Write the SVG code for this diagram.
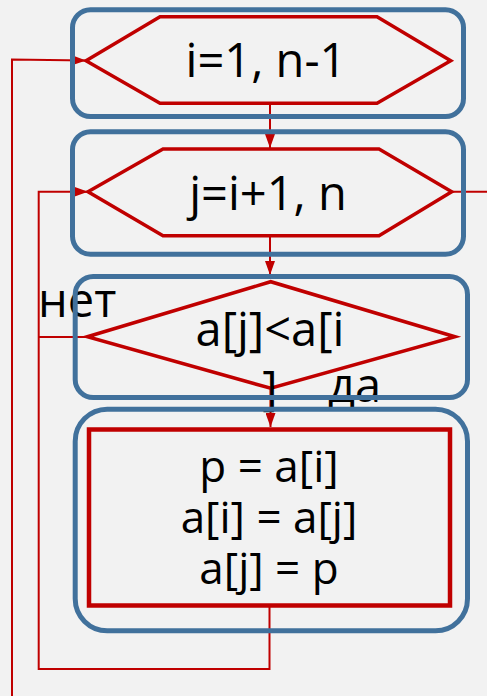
<svg xmlns="http://www.w3.org/2000/svg" width="487" height="696" viewBox="0 0 487 696">
  <style>
    .frame { fill: none; stroke: #41719c; stroke-width: 5; }
    .shape { fill: none; stroke: #c00000; stroke-width: 3.5; stroke-linejoin: miter; }
    .conn { fill: none; stroke: #c00000; stroke-width: 2; }
    .t { font-family: "Open Sans", "Noto Sans", "DejaVu Sans", sans-serif; font-size: 47px; fill: #000; }
    .s { font-size: 44px; }
    .c { text-anchor: middle; }
  </style>
  <defs>
    <marker id="arr" markerUnits="userSpaceOnUse" markerWidth="14" markerHeight="10" refX="14" refY="5" orient="auto">
      <path d="M0,0 L14,5 L0,10 z" fill="#c00000"/>
    </marker>
  </defs>
  <rect x="0" y="0" width="487" height="696" fill="#f2f2f2"/>

  <g id="connectors">
    <line class="conn" x1="270" y1="103.5" x2="270" y2="148" marker-end="url(#arr)"/>
    <line class="conn" x1="270" y1="235.5" x2="270" y2="275" marker-end="url(#arr)"/>
    <line class="conn" x1="270.5" y1="388" x2="270.5" y2="427" marker-end="url(#arr)"/>
    <polyline class="conn" points="269.5,607 269.5,669 38.7,669 38.7,191.7 88,191.7" marker-end="url(#arr)"/>
    <line class="conn" x1="87.3" y1="337" x2="38.7" y2="337"/>
    <line class="conn" x1="451.7" y1="191.7" x2="487" y2="191.7"/>
    <polyline class="conn" points="12,696 12,59.5 86,60.5" marker-end="url(#arr)"/>
    <text class="t" x="38" y="317">нет</text>
    <text class="t" x="328" y="402">да</text>
  </g>

  <g id="node-loop-i">
    <polygon class="shape" points="86,60.7 160,16.7 377,16.7 450.7,60.7 377,103.3 160,103.3"/>
    <text class="t c" x="266" y="77">i=1, n-1</text>
    <rect class="frame" x="72.5" y="9.8" width="391" height="106.7" rx="18"/>
  </g>

  <g id="node-loop-j">
    <polygon class="shape" points="88,191.7 163,149 379,149 451.7,191.7 379,235.7 163,235.7"/>
    <text class="t c" x="268" y="210">j=i+1, n</text>
    <rect class="frame" x="72.5" y="131.8" width="391" height="122.4" rx="18"/>
  </g>

  <g id="node-cond">
    <polygon class="shape" points="87.3,336.7 270.7,281.7 455,336.7 270.7,388.3"/>
    <text class="t c" x="270" y="345.5">a[j]&lt;a[i</text>
    <text class="t c" x="270" y="405">]</text>
    <rect class="frame" x="75.2" y="276.5" width="392.3" height="121" rx="18"/>
  </g>

  <g id="node-swap">
    <rect class="shape" x="89" y="429.5" width="361" height="176" style="stroke-width:4.5"/>
    <text class="t s c" x="269" y="481.5">p = a[i]</text>
    <text class="t s c" x="269" y="532.5">a[i] = a[j]</text>
    <text class="t s c" x="269" y="583.5">a[j] = p</text>
    <rect class="frame" x="75.2" y="409.2" width="392.3" height="221.6" rx="32"/>
  </g>
</svg>
